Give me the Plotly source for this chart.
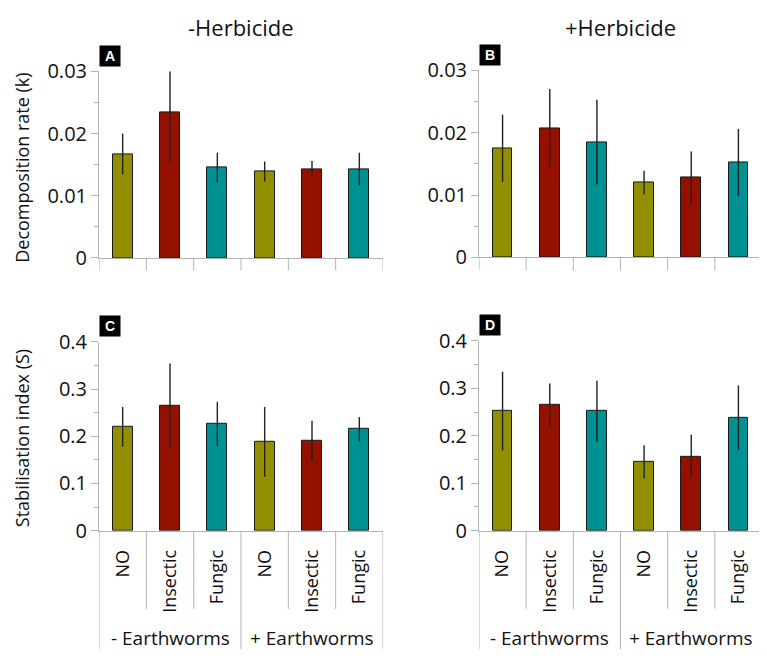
import plotly.graph_objects as go

# the page body has an 8px margin, so the figure is drawn 8px in from the window edge
OFF = 8
W, H = 767 - OFF, 665 - OFF

treatments = ["NO", "Insectic", "Fungic", "NO", "Insectic", "Fungic"]
groups = ["- Earthworms", "+ Earthworms"]
panel_titles = ["-Herbicide", "+Herbicide"]
row_titles = ["Decomposition rate (k)", "Stabilisation index (S)"]
letters = ["A", "B", "C", "D"]
colors = ["#929000", "#941100", "#009193", "#929000", "#941100", "#009193"]

k_minus_herb = [0.0167, 0.0234, 0.0145, 0.0139, 0.0143, 0.0143]
k_minus_herb_err = [0.0033, 0.0080, 0.0024, 0.0016, 0.0013, 0.0026]
k_plus_herb = [0.0175, 0.0207, 0.0185, 0.0120, 0.0128, 0.0152]
k_plus_herb_err = [0.0054, 0.0063, 0.0068, 0.0019, 0.0042, 0.0054]
s_minus_herb = [0.220, 0.264, 0.226, 0.188, 0.190, 0.215]
s_minus_herb_err = [0.042, 0.090, 0.047, 0.074, 0.043, 0.026]
s_plus_herb = [0.252, 0.265, 0.252, 0.145, 0.156, 0.238]
s_plus_herb_err = [0.083, 0.045, 0.064, 0.035, 0.046, 0.068]

FONT = "Open Sans"
AX = "#b4b4b4"


def px_x(p):
    return (p - OFF) / W


def px_y(p):
    return (H - (p - OFF)) / H


boxes = [
    (99, 383, 59.5, 254),
    (479, 762, 58.5, 253.5),
    (99, 383, 341.5, 538.5),
    (479, 762, 340.5, 538.5),
]
series = [
    (k_minus_herb, k_minus_herb_err, [0, 0.03], 0.01, 0.005),
    (k_plus_herb, k_plus_herb_err, [0, 0.03], 0.01, 0.005),
    (s_minus_herb, s_minus_herb_err, [0, 0.4], 0.1, 0.05),
    (s_plus_herb, s_plus_herb_err, [0, 0.4], 0.1, 0.05),
]

fig = go.Figure()
xs = list(range(len(treatments)))
shapes = []
annotations = []

for i, ((l, r, t, b), (vals, errs, yr, dt, mdt)) in enumerate(zip(boxes, series)):
    n = "" if i == 0 else str(i + 1)
    fig.add_trace(go.Bar(
        x=xs, y=vals, width=0.42,
        marker=dict(color=colors, line=dict(color="#1a1a1a", width=1)),
        error_y=dict(type="data", array=errs, visible=True, color="#222222",
                     thickness=1.4, width=0),
        xaxis="x" + n, yaxis="y" + n, showlegend=False, cliponaxis=True,
    ))
    bottom_row = i >= 2
    fig.update_layout(**{
        "xaxis" + n: dict(
            domain=[px_x(l), px_x(r)], anchor="y" + n, range=[-0.5, 5.5],
            showline=True, linecolor=AX, linewidth=1, showgrid=False, zeroline=False,
            ticks="", tickvals=xs, ticktext=treatments if bottom_row else [""] * 6,
            showticklabels=bottom_row, tickangle=-90, ticklabelstandoff=11,
            tickfont=dict(family=FONT, size=18, color="#111"),
        ),
        "yaxis" + n: dict(
            domain=[px_y(b), px_y(t)], anchor="x" + n, range=yr, dtick=dt,
            showline=True, linecolor=AX, linewidth=1, showgrid=False, zeroline=False,
            ticks="outside", ticklen=7, tickcolor=AX, tickwidth=1,
            minor=dict(dtick=mdt, ticks="outside", ticklen=4, tickcolor=AX, tickwidth=1),
            tickfont=dict(family=FONT, size=20, color="#111"),
        ),
    })
    for j in range(len(treatments) + 1):
        xb = j - 0.5
        if bottom_row:
            end = 662 if j in (0, 3, 6) else 620
        else:
            end = 267
        shapes.append(dict(type="line", xref="x" + n, yref="paper",
                           x0=xb, x1=xb, y0=px_y(b), y1=px_y(end),
                           line=dict(color=AX, width=1)))
    annotations.append(dict(
        text="<b>%s</b>" % letters[i], xref="paper", yref="paper",
        x=px_x(l), y=px_y(t - 28), xanchor="left", yanchor="top",
        showarrow=False, bgcolor="black", width=16, height=16, borderpad=2,
        font=dict(family="Liberation Sans", size=14, color="white"),
    ))
    if bottom_row:
        for g, cx in zip(groups, [1, 4]):
            annotations.append(dict(
                text=g, xref="x" + n, yref="paper", x=cx, y=px_y(650),
                xanchor="center", yanchor="middle", showarrow=False,
                font=dict(family=FONT, size=19, color="#111"),
            ))
    else:
        annotations.append(dict(
            text=panel_titles[i], xref="paper", yref="paper",
            x=px_x((l + r) / 2), y=px_y(13), xanchor="center", yanchor="middle",
            showarrow=False, font=dict(family=FONT, size=22, color="#111"),
        ))

for title, cy in zip(row_titles, [160, 442]):
    annotations.append(dict(
        text=title, xref="paper", yref="paper", x=0, y=px_y(cy),
        xanchor="left", yanchor="middle", textangle=-90, showarrow=False,
        font=dict(family=FONT, size=18, color="#111"),
    ))

fig.update_layout(
    width=W, height=H, margin=dict(l=0, r=0, t=0, b=0),
    paper_bgcolor="white", plot_bgcolor="white",
    shapes=shapes, annotations=annotations, bargap=0,
    font=dict(family=FONT),
)

fig.write_html("out.html")
